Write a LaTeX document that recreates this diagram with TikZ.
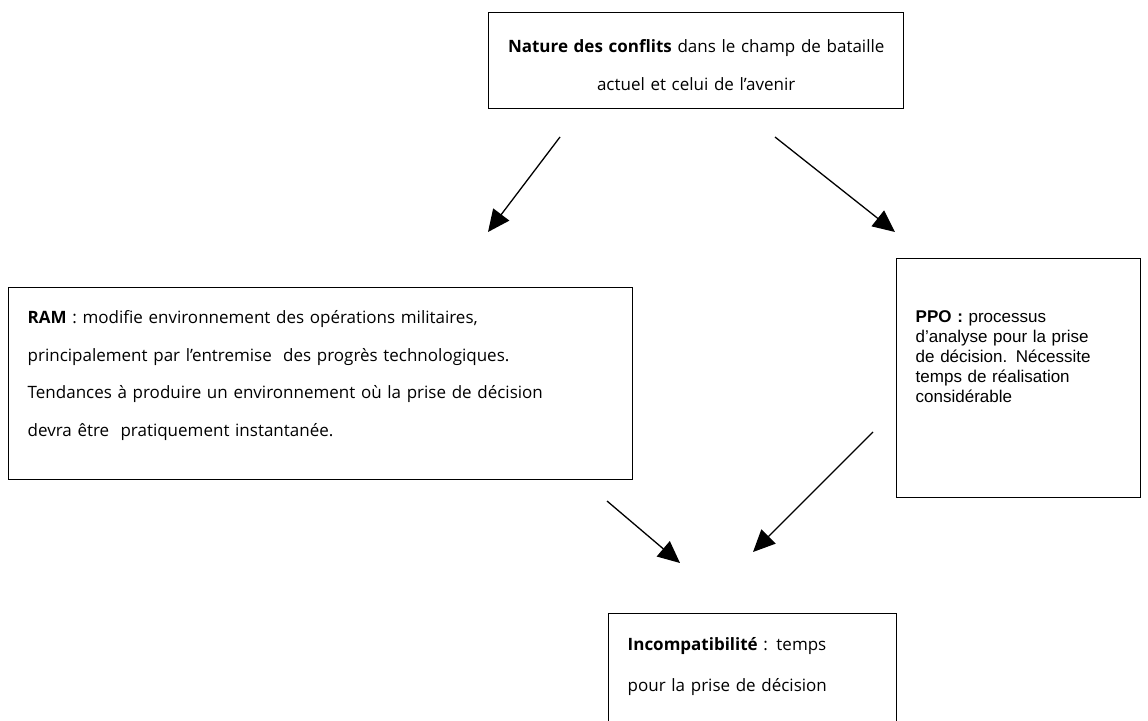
\documentclass[tikz,border=0pt]{standalone}
\usepackage{fontspec}
\setmainfont{Open Sans}
\newfontfamily\arialfont{Liberation Sans}
\usetikzlibrary{arrows.meta}
\newcommand{\boxtext}[3]{\parbox[c][#1][t]{\linewidth}{\vspace*{#2}#3}}
\begin{document}
\begin{tikzpicture}[x=1pt,y=-1pt,
  box/.style={draw, line width=1.4pt, inner ysep=0pt, anchor=north west},
  arr/.style={line width=1.3pt, -{Triangle[length=22pt,width=20pt]}},
  lucida/.style={font=\fontsize{17}{37.5}\selectfont}]
\useasboundingbox (0,0) rectangle (1148,720);
\clip (0,0) rectangle (1148,720);

\node[box, lucida, text width=395pt, inner xsep=10pt] (nature) at (488,12)
  {\boxtext{96pt}{27pt}{\centering\textbf{Nature des conflits} dans le champ de bataille\\actuel et celui de l’avenir\par}};

\node[box, lucida, text width=586pt, inner xsep=19pt] (ram) at (8,287)
  {\boxtext{192pt}{23pt}{\raggedright\textbf{RAM} : modifie environnement des opérations militaires,\\
   principalement par l’entremise\ \ des progrès technologiques.\\
   Tendances à produire un environnement où la prise de décision\\
   devra être\ \ pratiquement instantanée.\par}};

\node[box, text width=206pt, inner xsep=19pt, font=\arialfont\fontsize{17}{20}\selectfont] (ppo) at (896,258)
  {\boxtext{239pt}{52pt}{\raggedright\textbf{PPO :} processus\\ d’analyse pour la prise\\ de décision. Nécessite\\ temps de réalisation\\ considérable\par}};

\node[box, text width=250pt, inner xsep=19pt, font=\fontsize{17}{41}\selectfont] (inc) at (608,613)
  {\boxtext{130pt}{24pt}{\raggedright\textbf{Incompatibilité} : temps\\ pour la prise de décision\par}};

\coordinate (a1s) at (560,137);
\coordinate (a1e) at (488,232);
\coordinate (a2s) at (775,137);
\coordinate (a2e) at (895,232);
\coordinate (a3s) at (607,501);
\coordinate (a3e) at (680,563);
\coordinate (a4s) at (873,432);
\coordinate (a4e) at (753,552);
\draw[arr] (a1s) -- (a1e);
\draw[arr] (a2s) -- (a2e);
\draw[arr] (a3s) -- (a3e);
\draw[arr] (a4s) -- (a4e);
\end{tikzpicture}
\end{document}
